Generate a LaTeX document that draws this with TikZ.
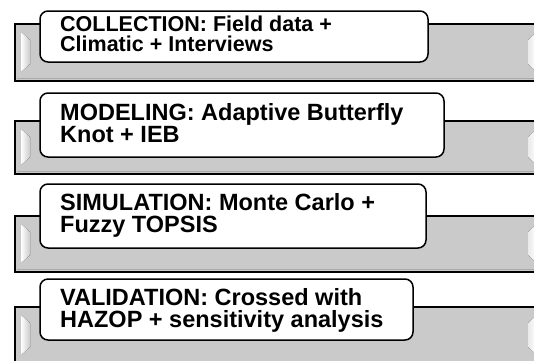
\documentclass[tikz,border=0pt]{standalone}
\usepackage{fontspec}
\setmainfont{Liberation Sans}
\definecolor{panelgray}{RGB}{202,202,202}
\definecolor{paneldark}{RGB}{170,170,170}
\begin{document}
\begin{tikzpicture}[x=1pt,y=-1pt,
  panel/.style={draw=black, line width=1.3pt, fill=panelgray},
  labelbox/.style={draw=black, line width=1.5pt, fill=white, rounded corners=8pt},
  bevelleft/.style={left color=white, right color=panelgray, draw=none},
  bevelright/.style={left color=panelgray!40!white, right color=white, draw=none},
  txt/.style={anchor=north west, inner sep=0pt, align=left, text=black},
]
\useasboundingbox (0,0) rectangle (534,360);
\clip (0,0) rectangle (534,360);
\fill[white] (0,0) rectangle (534,360);
% panels
\foreach \t/\b in {24/81, 121/174, 216/272, 307/364}{
  \draw[panel] (15,\t) rectangle (560,\b);
  \draw[paneldark, line width=1pt] (17,\b-2.5) -- (560,\b-2.5);
  \fill[bevelleft] (21,\t+8) -- (30,\t+16) -- (30,\b-17) -- (21,\b-9) -- cycle;
  \fill[bevelright] (528,\t+16) -- (537,\t+8) -- (537,\b-9) -- (528,\b-17) -- cycle;
}
% label boxes
\draw[labelbox] (40,11) rectangle (428,62);
\draw[labelbox] (40,93) rectangle (444,157);
\draw[labelbox] (40,184) rectangle (426,248);
\draw[labelbox] (40,279) rectangle (413,340);
% texts
\node[txt, font=\bfseries\fontsize{21.5}{20}\selectfont] (t1) at (60,16) {COLLECTION: Field data +\\Climatic + Interviews};
\node[txt, font=\bfseries\fontsize{23.5}{22}\selectfont] (t2) at (60,103) {MODELING: Adaptive Butterfly\\Knot + IEB};
\node[txt, font=\bfseries\fontsize{23.5}{22}\selectfont] (t3) at (60,193) {SIMULATION: Monte Carlo +\\Fuzzy TOPSIS};
\node[txt, font=\bfseries\fontsize{23.5}{22}\selectfont] (t4) at (60,288) {VALIDATION: Crossed with\\HAZOP + sensitivity analysis};
\end{tikzpicture}
\end{document}
